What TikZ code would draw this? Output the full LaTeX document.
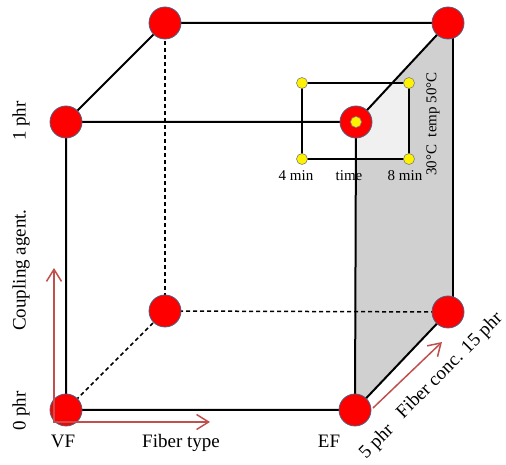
\documentclass[tikz,border=0pt]{standalone}
\usepackage{fontspec}
\setmainfont{Liberation Serif}
\usetikzlibrary{arrows.meta}
\definecolor{axisred}{RGB}{192,80,77}
\definecolor{facegray}{RGB}{208,208,208}
\definecolor{rimblue}{RGB}{80,96,128}
\tikzset{
  vertex/.style={circle,fill=red,draw=rimblue,line width=0.8pt,minimum size=32pt,inner sep=0pt},
  ydot/.style={circle,fill=yellow,draw=gray,line width=0.6pt,minimum size=11pt,inner sep=0pt},
  edge/.style={line width=2pt,black},
  hidden/.style={line width=1.5pt,black,dash pattern=on 4pt off 3pt},
  axis/.style={line width=1.5pt,axisred,arrows={Straight Barb[length=12pt,width=15pt,line width=1.5pt]-Straight Barb[length=12pt,width=15pt,line width=1.5pt]}},
  axisone/.style={line width=1.5pt,axisred,-{Straight Barb[length=12pt,width=15pt,line width=1.5pt]}},
  biglab/.style={font=\fontsize{19}{22}\selectfont,inner sep=0pt},
  smalllab/.style={font=\fontsize{15}{18}\selectfont,inner sep=0pt}
}
\begin{document}
\begin{tikzpicture}[x=1pt,y=1pt]
\useasboundingbox (0,0) rectangle (506,465);
% corner coordinates
\coordinate (A) at (66,55);
\coordinate (B) at (355,55);
\coordinate (C) at (66,343);
\coordinate (D) at (356,343);
\coordinate (E) at (165,154);
\coordinate (F) at (448,153);
\coordinate (G) at (165,442);
\coordinate (H) at (448,442);
\coordinate (Hr) at (453,442);
\coordinate (Fr) at (453,153);
% gray face
\fill[facegray] (D) -- (H) -- (Hr) -- (Fr) -- (F) -- (B) -- cycle;
% inset box fill
\coordinate (Y1) at (302,382);
\coordinate (Y2) at (409,382);
\coordinate (Y3) at (302,306);
\coordinate (Y4) at (409,306);
\fill[white,opacity=0.7] (Y1) rectangle (Y4);
% hidden edges
\draw[hidden] (A) -- (E);
\draw[hidden] (E) -- (G);
\draw[hidden] (E) -- (F);
% visible edges
\draw[edge] (A) -- (B) -- (D) -- (C) -- cycle;
\draw[edge] (C) -- (G) -- (H) -- (D);
\draw[edge] (B) -- (F);
\draw[edge] (Hr) -- (Fr);
% inset box border
\draw[edge] (Y1) -- (Y2) -- (Y4) -- (Y3) -- cycle;
% vertices
\foreach \p in {A,B,C,D,E,F,G,H} \node[vertex] (n\p) at (\p) {};
\node[ydot] (yc) at (D) {};
\foreach \p in {Y1,Y2,Y3,Y4} \node[ydot] (d\p) at (\p) {};
% axes
\coordinate (axtop) at (54,197);
\coordinate (axcorner) at (54,43);
\coordinate (axright) at (210,43);
\draw[axis] (axtop) -- (axcorner) -- (axright);
\coordinate (dstart) at (373,57);
\coordinate (dend) at (442,123);
\draw[axisone] (dstart) -- (dend);
% labels
\node[biglab,rotate=90] (l1) at (21,344) {1 phr};
\node[biglab,rotate=90] (l2) at (21,195) {Coupling agent.};
\node[biglab,rotate=90] (l3) at (21,54) {0 phr};
\node[biglab,anchor=base] (l4) at (63,17) {VF};
\node[biglab,anchor=base] (l5) at (181,17) {Fiber type};
\node[biglab,anchor=base] (l6) at (329,17) {EF};
\node[biglab,rotate=45] (l7) at (377,23) {5 phr};
\node[biglab,rotate=45] (l8) at (450,99) {Fiber conc. 15 phr};
\node[smalllab] (s1) at (296,289) {4 min};
\node[smalllab] (s2) at (349,289) {time};
\node[smalllab] (s3) at (405,289) {8 min};
\node[smalllab,rotate=90] (s4) at (433,341) {30°C\ \ temp 50°C};
\end{tikzpicture}
\end{document}
